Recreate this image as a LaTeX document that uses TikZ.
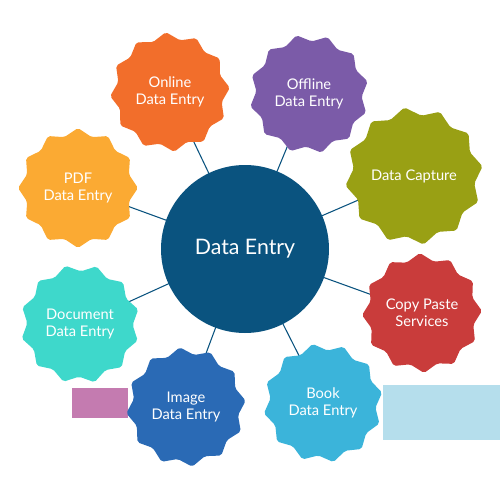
\documentclass[tikz,border=0pt]{standalone}
\usepackage{fontspec}
\setmainfont{Lato}
\usetikzlibrary{shapes.geometric,backgrounds}

\definecolor{entryblue}{HTML}{0A537F}
\definecolor{onlinecol}{HTML}{F26E2B}
\definecolor{offlinecol}{HTML}{7B5BA8}
\definecolor{capturecol}{HTML}{99A014}
\definecolor{copycol}{HTML}{C93C3B}
\definecolor{bookcol}{HTML}{3BB4DA}
\definecolor{imagecol}{HTML}{2A6AB5}
\definecolor{documentcol}{HTML}{3ED8CB}
\definecolor{pdfcol}{HTML}{FBAA33}
\definecolor{pinkpatch}{HTML}{C47BB0}
\definecolor{bluepatch}{HTML}{B5DEEC}

\tikzset{
  seal/.style={star, star points=12, star point ratio=1.14, minimum size=90pt,
    inner sep=0pt, rounded corners=1.5pt, fill=#1, text=white,
    font=\fontsize{11}{13}\selectfont, align=center},
  spoke/.style={draw=entryblue, line width=0.8pt},
}

\begin{document}
\begin{tikzpicture}[x=0.75pt,y=0.75pt,yscale=-1]
\useasboundingbox (0,0) rectangle (500,500);

%Shape: Circle [center]
\node[circle, fill=entryblue, minimum size=126pt, text=white,
  font=\fontsize{16}{19}\selectfont] (entry) at (245,249) {Data Entry};

%Shape: Stars [around]
\node[seal=onlinecol, shape border rotate=4] (online) at (170,92) {Online\\Data Entry};
\node[seal=offlinecol, shape border rotate=12] (offline) at (309,94) {Offline\\Data Entry};
\node[seal=capturecol, shape border rotate=8] (capture) at (414,176) {Data Capture};
\node[seal=copycol, shape border rotate=2] (copy) at (422,313) {Copy Paste\\Services};
\node[seal=bookcol, shape border rotate=10] (book) at (323,403) {Book\\Data Entry};
\node[seal=imagecol, shape border rotate=6] (image) at (186,407) {Image\\Data Entry};
\node[seal=documentcol, shape border rotate=14] (document) at (80,324) {Document\\Data Entry};
\node[seal=pdfcol, shape border rotate=0] (pdf) at (78,188) {PDF\\Data Entry};

%Straight Lines [spokes]
\begin{scope}[on background layer]
\fill[pinkpatch] (72,388) rectangle (128,418);
\fill[bluepatch] (383,385) rectangle (500,440);
\foreach \s in {online,offline,capture,copy,book,image,document,pdf}
  \draw[spoke] (entry.center) -- (\s.center);
\end{scope}

\end{tikzpicture}
\end{document}
